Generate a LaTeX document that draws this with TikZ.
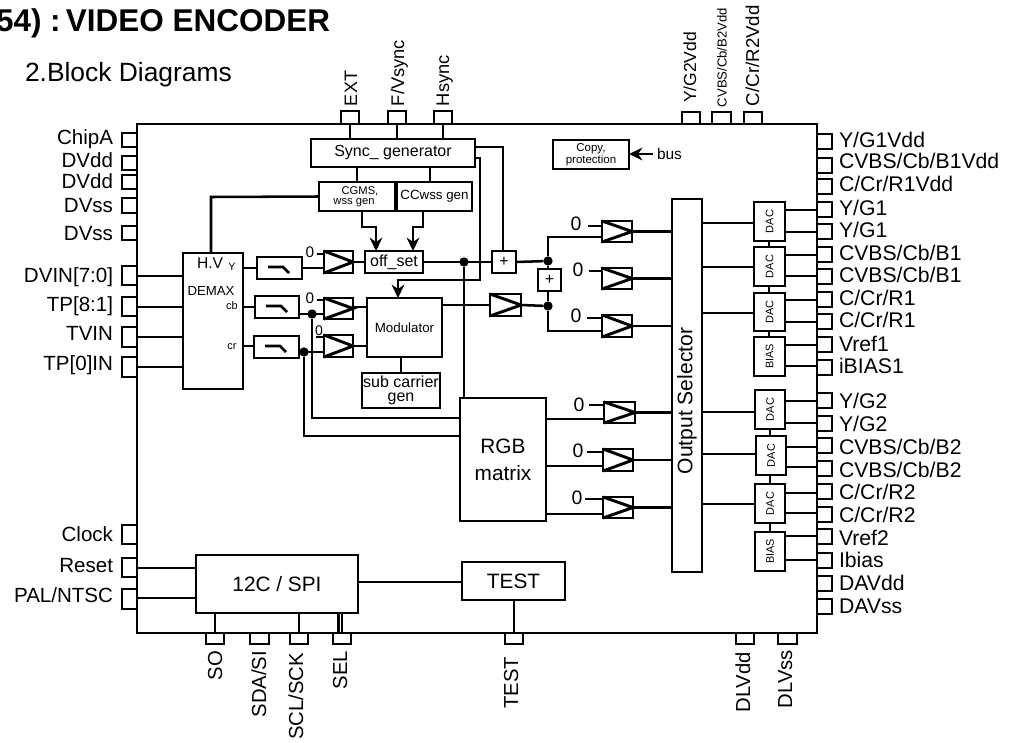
\documentclass[tikz,border=0pt]{standalone}
\usepackage{fontspec}
\setmainfont{Liberation Sans}
\usetikzlibrary{arrows.meta,calc}
\tikzset{
  boxn/.style={draw=black,line width=1.9pt,inner sep=0pt,outer sep=0pt,align=center},
  wire/.style={draw=black,line width=1.9pt,line join=miter},
  arrw/.style={wire,-{Stealth[length=10pt,width=9.5pt]}},
  txt/.style={inner sep=0pt,outer sep=0pt,align=center,font=\fontsize{#1}{#1}\selectfont},
  dotn/.style={circle,fill=black,draw=none,minimum size=7pt,inner sep=0pt,outer sep=0pt},
}
\newcommand\blk[7][]{%
  \pgfmathsetmacro\bw{(#5-#3)*0.75}\pgfmathsetmacro\bh{(#6-#4)*0.75}%
  \node[boxn,minimum width=\bw pt,minimum height=\bh pt,#1] (#2) at ({(#3+#5)/2},{(#4+#6)/2}) {#7};}
\newcommand\bufn[5]{%
  \blk[line width=2.2pt]{#1}{#2}{#3}{#4}{#5}{}%
  \draw[wire,line width=2.2pt] (#1.north west) -- (#1.east) -- (#1.south west);}
\newcommand\filt[5]{%
  \blk{#1}{#2}{#3}{#4}{#5}{}%
  \draw[wire] ($(#1.north west)+(11,10)$) -- ++(15,0) -- ++(6,6);}
\newcommand\rpin[5]{\blk{#1}{817}{#2}{832}{#3}{}\node[txt=15.9,anchor=base west] (#1t) at (839,#5) {#4};}
\newcommand\lpin[5]{\blk{#1}{122}{#2}{137}{#3}{}\node[txt=15.4,anchor=base east] (#1t) at (113,#5) {#4};}
\begin{document}
\begin{tikzpicture}[x=0.75pt,y=-0.75pt]
\useasboundingbox (0,0) rectangle (1016,742);
\fill[white] (0,0) rectangle (1016,742);
\node[txt=23.6,font=\fontsize{23.6}{24}\selectfont\bfseries,anchor=base east] (title) at (330,32) {54) :\,VIDEO ENCODER};
\node[txt=19.8,anchor=base west] (sub) at (25,81) {2.Block Diagrams};

\blk{chip}{137}{124}{817}{633}{}

% left pins
\lpin{lA}{133}{147}{ChipA}{144}
\lpin{lB}{156}{170}{DVdd}{167}
\lpin{lC}{175}{189}{DVdd}{188}
\lpin{lD}{198}{213}{DVss}{212}
\lpin{lE}{226}{240}{DVss}{240}
\lpin{lF}{266}{285}{DVIN[7:0]}{282}
\lpin{lG}{297}{316}{TP[8:1]}{311}
\lpin{lH}{327}{347}{TVIN}{340}
\lpin{lI}{357}{377}{TP[0]IN}{370}
\lpin{lJ}{525}{544}{Clock}{541}
\lpin{lK}{558}{577}{Reset}{572}
\lpin{lL}{589}{609}{PAL/NTSC}{602}

% right pins
\rpin{rA}{134}{149}{Y/G1Vdd}{147}
\rpin{rB}{158}{173}{CVBS/Cb/B1Vdd}{168}
\rpin{rC}{179}{194}{C/Cr/R1Vdd}{191}
\rpin{rD}{202}{217}{Y/G1}{215}
\rpin{rE}{224}{239}{Y/G1}{237}
\rpin{rF}{247}{262}{CVBS/Cb/B1}{260}
\rpin{rG}{269}{284}{CVBS/Cb/B1}{282}
\rpin{rH}{292}{307}{C/Cr/R1}{305}
\rpin{rI}{314}{329}{C/Cr/R1}{327}
\rpin{rJ}{337}{352}{Vref1}{351}
\rpin{rK}{360}{375}{iBIAS1}{373}
\rpin{rL}{393}{408}{Y/G2}{408}
\rpin{rM}{416}{431}{Y/G2}{431}
\rpin{rN}{438}{453}{CVBS/Cb/B2}{454}
\rpin{rO}{461}{476}{CVBS/Cb/B2}{477}
\rpin{rP}{484}{499}{C/Cr/R2}{499}
\rpin{rQ}{507}{522}{C/Cr/R2}{522}
\rpin{rR}{529}{544}{Vref2}{545}
\rpin{rS}{553}{568}{Ibias}{567}
\rpin{rT}{576}{591}{DAVdd}{590}
\rpin{rU}{599}{614}{DAVss}{613}

% top pins
\blk{tA}{341}{111}{359}{124}{}
\blk{tB}{388}{111}{406}{124}{}
\blk{tC}{434}{111}{452}{124}{}
\blk{tD}{682}{112}{700}{124}{}
\blk{tE}{712}{112}{731}{124}{}
\blk{tF}{744}{112}{762}{124}{}
\node[txt=13.5,rotate=90,anchor=base west] (tAt) at (357,106) {EXT};
\node[txt=13.7,rotate=90,anchor=base west] (tBt) at (404,106) {F/Vsync};
\node[txt=13.7,rotate=90,anchor=base west] (tCt) at (449,106) {Hsync};
\node[txt=13.1,rotate=90,anchor=base west] (tDt) at (696,103) {Y/G2Vdd};
\node[txt=9.8,rotate=90,anchor=base west] (tEt) at (726.5,107) {CVBS/Cb/B2Vdd};
\node[txt=14,rotate=90,anchor=base west] (tFt) at (759,106) {C/Cr/R2Vdd};

% bottom pins
\blk{bA}{206}{633}{224}{644}{}
\blk{bB}{250}{633}{269}{644}{}
\blk{bC}{290}{633}{308}{644}{}
\blk{bD}{333}{633}{351}{644}{}
\blk{bE}{505}{633}{523}{644}{}
\blk{bF}{736}{633}{754}{644}{}
\blk{bG}{778}{633}{797}{644}{}
\node[txt=15.2,rotate=90,anchor=base east] (bAt) at (222,651) {SO};
\node[txt=15.2,rotate=90,anchor=base east] (bBt) at (266,651) {SDA/SI};
\node[txt=15.2,rotate=90,anchor=base east] (bCt) at (303,653) {SCL/SCK};
\node[txt=15.2,rotate=90,anchor=base east] (bDt) at (347,651) {SEL};
\node[txt=15.2,rotate=90,anchor=base east] (bEt) at (518,657) {TEST};
\node[txt=15.2,rotate=90,anchor=base east] (bFt) at (750,652) {DLVdd};
\node[txt=15.2,rotate=90,anchor=base east] (bGt) at (792,650) {DLVss};

% blocks
\blk[font=\fontsize{12}{14}\selectfont]{sync}{311}{139}{475}{167}{Sync\_ generator}
\blk{cg}{319}{182}{395}{211}{}
\node[txt=8.4] (cg1) at (360,191) {CGMS,};
\node[txt=8.4] (cg2) at (354,203) {wss gen};
\blk[font=\fontsize{10}{12}\selectfont]{cc}{397}{182}{472}{211}{CCwss gen}
\blk[font=\fontsize{12}{14}\selectfont]{off}{365}{251}{423}{273}{off\_set}
\blk{demax}{183}{253}{243}{389}{}
\node[txt=11.7] (hv) at (210,263) {H.V};
\node[txt=8] (yl) at (232,267) {Y};
\node[txt=9.9] (dm) at (211,291) {DEMAX};
\node[txt=8.2] (cbl) at (232,306) {cb};
\node[txt=8.2] (crl) at (232,347) {cr};
\filt{fY}{257}{257}{302}{279}
\filt{fB}{255}{296}{299}{318}
\filt{fR}{254}{336}{299}{358}
\bufn{bY}{324}{251}{353}{273}
\bufn{bB}{324}{298}{353}{319}
\bufn{bR}{324}{335}{353}{357}
\blk[font=\fontsize{10}{12}\selectfont]{mod}{367}{298}{442}{357}{Modulator}
\blk[font=\fontsize{12}{10.5}\selectfont]{sub2}{362}{373}{440}{408}{sub carrier\\gen}
\blk[font=\fontsize{15.6}{20}\selectfont]{rgb}{460}{398}{546}{521}{RGB\\matrix}
\blk[font=\fontsize{12}{12}\selectfont]{pA}{492}{251}{516}{273}{+}
\blk[font=\fontsize{12}{12}\selectfont]{pB}{538}{269}{561}{291}{+}
\bufn{bM}{490}{294}{521}{316}
\bufn{b1}{602}{221}{632}{242}
\bufn{b2}{602}{268}{632}{289}
\bufn{b3}{602}{315}{632}{337}
\bufn{b4}{604}{402}{635}{423}
\bufn{b5}{603}{449}{633}{471}
\bufn{b6}{603}{497}{633}{518}
\blk[font=\fontsize{8.6}{9.2}\selectfont]{cp}{553}{140}{629}{169}{Copy,\\protection}
\node[txt=11.6,anchor=west] (bus) at (657,154) {bus};
\blk{sel}{672}{199}{702}{572}{}
\node[txt=15.8,rotate=90] (selt) at (687,401) {Output Selector};
\blk{dA}{754}{202}{785}{241}{}
\blk{dB}{754}{247}{785}{286}{}
\blk{dC}{754}{293}{785}{331}{}
\blk{dD}{754}{337}{785}{376}{}
\blk{dE}{755}{390}{785}{429}{}
\blk{dF}{756}{436}{786}{475}{}
\blk{dG}{755}{484}{785}{523}{}
\blk{dH}{755}{532}{785}{571}{}
\foreach \n/\t in {dA/DAC,dB/DAC,dC/DAC,dD/BIAS,dE/DAC,dF/DAC,dG/DAC,dH/BIAS}
  \node[txt=8.2,rotate=90] (\n t) at (\n) {\t};
\blk[font=\fontsize{15.6}{18}\selectfont]{i2c}{196}{555}{358}{613}{12C / SPI}
\blk[font=\fontsize{15.6}{18}\selectfont]{tst}{462}{562}{565}{600}{TEST}

% zero labels
\node[txt=11.5] (z1) at (310,252) {0};
\node[txt=11.5] (z2) at (310,298) {0};
\node[txt=10.5] (z3) at (319,331) {0};
\node[txt=14.6] (z4) at (576,224) {0};
\node[txt=14.6] (z5) at (578,270) {0};
\node[txt=14.6] (z6) at (576,316) {0};
\node[txt=14.6] (z7) at (579,405) {0};
\node[txt=14.6] (z8) at (578,451) {0};
\node[txt=14.6] (z9) at (577,498) {0};
\draw[wire] (bY.west |- 0,254) -- ++(-7,0);
\draw[wire] (bB.west |- 0,300) -- ++(-7,0);
\draw[wire] (bR.west |- 0,337) -- ++(-8,0);
\draw[wire] (b1.west |- 0,226) -- ++(-14,0);
\draw[wire] (b2.west |- 0,271) -- ++(-13,0);
\draw[wire] (b3.west |- 0,318) -- ++(-15,0);
\draw[wire] (b4.west |- 0,405) -- ++(-15,0);
\draw[wire] (b5.west |- 0,452) -- ++(-16,0);
\draw[wire] (b6.west |- 0,499) -- ++(-18,0);

% dots
\node[dotn] (dotA) at (464,262) {};
\node[dotn] (dotB) at (312,314) {};
\node[dotn] (dotC) at (304,352) {};
\node[dotn] (dotD) at (548,261) {};
\node[dotn] (dotE) at (548,306) {};

% top & bottom pin wires
\draw[wire] (chip.north -| tA) -- (sync.north -| tA);
\draw[wire] (chip.north -| tB) -- (sync.north -| tB);
\draw[wire] (chip.north -| tC) -- (sync.north -| tC);
\draw[wire] (i2c.south -| bA) -- (chip.south -| bA);
\draw[wire] (i2c.south -| bB) -- (chip.south -| bB);
\draw[wire] (i2c.south -| bC) -- (chip.south -| bC);
\draw[wire] (i2c.south -| bD) -- (chip.south -| bD);
\draw[wire] (tst.south -| bE) -- (chip.south -| bE);

% left side wires
\draw[wire] (chip.west |- 0,276) -- (demax.west |- 0,276);
\draw[wire] (chip.west |- 0,307) -- (demax.west |- 0,307);
\draw[wire] (chip.west |- 0,337) -- (demax.west |- 0,337);
\draw[wire] (chip.west |- 0,367) -- (demax.west |- 0,367);
\draw[wire] (chip.west |- 0,568) -- (i2c.west |- 0,568);
\draw[wire] (chip.west |- 0,598) -- (i2c.west |- 0,598);
\draw[wire] (i2c.east |- 0,582) -- (tst.west |- 0,582);

% sync section
\draw[wire] (sync.south -| 357,0) -- (cg.north -| 357,0);
\draw[wire] (sync.south -| 430,0) -- (cc.north -| 430,0);
\draw[wire] (cg.west) -- (211,197) -- (demax.north -| 211,0);
\draw[arrw] (cg.south -| 362,0) -- (362,227) -- (376,227) -- (off.north -| 376,0);
\draw[arrw] (cc.south -| 423,0) -- (423,227) -- (413,227) -- (off.north -| 413,0);
\draw[wire] (sync.east |- 0,147) -- (503,147) -- (pA.north -| 503,0);
\draw[arrw] (sync.east |- 0,158) -- (480,158) -- (480,280) -- (398,280) -- (mod.north -| 398,0);

% demax to filters to buffers
\draw[wire] (demax.east |- 0,268) -- (fY.west |- 0,268);
\draw[wire] (demax.east |- 0,307) -- (fB.west |- 0,307);
\draw[wire] (demax.east |- 0,346) -- (fR.west |- 0,346);
\draw[wire] (fY.east |- 0,268) -- (bY.west |- 0,268);
\draw[wire] (fB.east |- 0,314) -- (bB.west |- 0,314);
\draw[wire] (fR.east |- 0,352) -- (bR.west |- 0,352);
\draw[wire] (bY.east |- off.west) -- (off.west);
\draw[wire] (bB.east |- 0,307) -- (mod.west |- 0,307);
\draw[wire] (bR.east |- 0,346) -- (mod.west |- 0,346);
\draw[wire] (off.east |- pA.west) -- (pA.west);
\draw[wire] (dotA) -- (rgb.north -| dotA);
\draw[wire] (mod.south -| 401,0) -- (sub2.north -| 401,0);
\draw[wire] (dotB) -- (312,418) -- (rgb.west |- 0,418);
\draw[wire] (dotC) -- (304,436) -- (rgb.west |- 0,436);

% mixing
\draw[wire] (mod.east |- bM.west) -- (bM.west);
\draw[wire] (bM.east) -- (dotE);
\draw[wire] (pA.east) -- (dotD);
\draw[wire] (dotD) -- (pB.north -| dotD);
\draw[wire] (pB.south -| dotE) -- (dotE);
\draw[wire] (dotD) -- (548,237) -- (b1.west |- 0,237);
\draw[wire] (dotE) -- (548,331) -- (b3.west |- 0,331);
\draw[wire] (b1.east) -- (sel.west |- b1.east);
\draw[wire] (b2.east) -- (sel.west |- b2.east);
\draw[wire] (b3.east) -- (sel.west |- b3.east);
\draw[wire] (rgb.east |- 0,419) -- (b4.west |- 0,419);
\draw[wire] (rgb.east |- 0,466) -- (b5.west |- 0,466);
\draw[wire] (rgb.east |- 0,514) -- (b6.west |- 0,514);
\draw[wire] (b4.east) -- (sel.west |- b4.east);
\draw[wire] (b5.east) -- (sel.west |- b5.east);
\draw[wire] (b6.east) -- (sel.west |- b6.east);

% selector to DACs
\draw[wire] (sel.east |- 0,223) -- (dA.west |- 0,223);
\draw[wire] (sel.east |- 0,267) -- (dB.west |- 0,267);
\draw[wire] (sel.east |- 0,313) -- (dC.west |- 0,313);
\draw[wire] (sel.east |- 0,412) -- (dE.west |- 0,412);
\draw[wire] (sel.east |- 0,454) -- (dF.west |- 0,454);
\draw[wire] (sel.east |- 0,504) -- (dG.west |- 0,504);
\draw[wire] (dA.south -| 769,0) -- (dB.north -| 769,0);
\draw[wire] (dB.south -| 769,0) -- (dC.north -| 769,0);
\draw[wire] (dC.south -| 769,0) -- (dD.north -| 769,0);
\draw[wire] (dE.south -| 770,0) -- (dF.north -| 770,0);
\draw[wire] (dF.south -| 770,0) -- (dG.north -| 770,0);
\draw[wire] (dG.south -| 770,0) -- (dH.north -| 770,0);
\foreach \n/\y in {dA/210,dA/232,dB/255,dB/276,dC/300,dC/322,dD/345,dD/366,dE/401,dE/423,dF/447,dF/467,dG/493,dG/513,dH/536,dH/560}
  \draw[wire] (\n.east |- 0,\y) -- (chip.east |- 0,\y);
\draw[arrw] ([xshift=-3pt]bus.west) -- (cp.east |- bus.west);
\end{tikzpicture}
\end{document}
